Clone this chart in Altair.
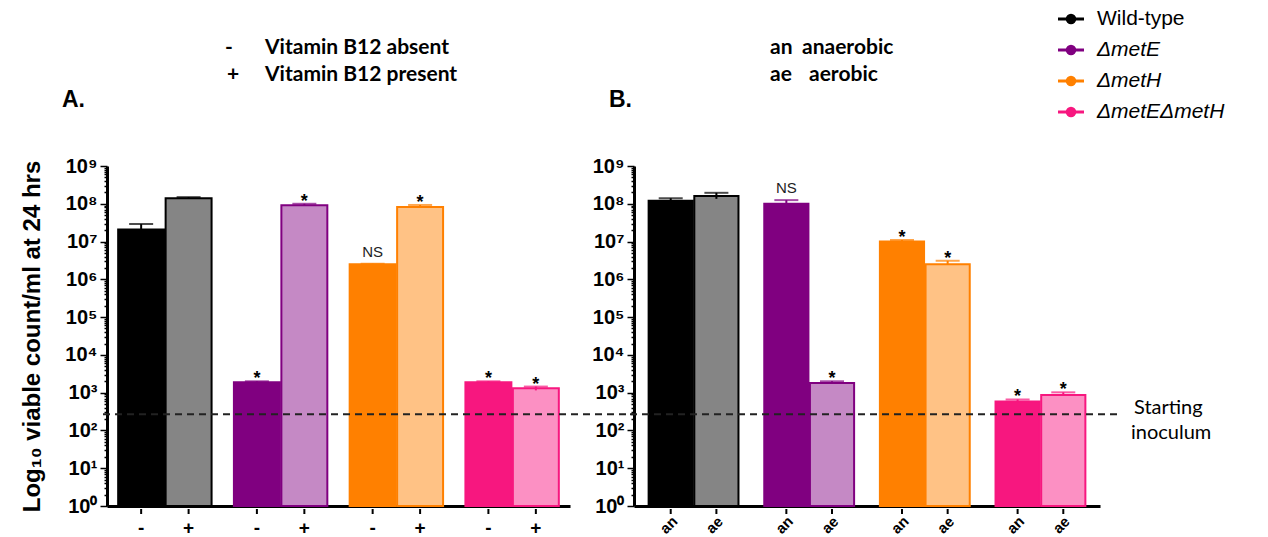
import altair as alt
import pandas as pd

# ---------------- data ----------------
strains = ["Wild-type", "ΔmetE", "ΔmetH", "ΔmetEΔmetH"]
strain_colors = ["#000000", "#800080", "#ff8000", "#f7177f"]
pattern_colors = ["#858585", "#c589c5", "#ffc285", "#fc90c3"]

a_conds = ["-", "+"]
a_strain = ["Wild-type", "Wild-type", "ΔmetE", "ΔmetE", "ΔmetH", "ΔmetH", "ΔmetEΔmetH", "ΔmetEΔmetH"]
a_cond = ["-", "+", "-", "+", "-", "+", "-", "+"]
a_value = [2.1e7, 1.4e8, 1.9e3, 9.2e7, 2.5e6, 8.2e7, 1.9e3, 1.3e3]
a_err_hi = [2.9e7, 1.5e8, 2.0e3, 1.0e8, 2.6e6, 9.3e7, 2.0e3, 1.45e3]
a_err_lo = [2.1e7, 1.4e8, 1.9e3, 9.2e7, 2.5e6, 8.2e7, 1.9e3, 1.15e3]
a_sig = ["", "", "*", "*", "NS", "*", "*", "*"]

b_conds = ["an", "ae"]
b_strain = a_strain
b_cond = ["an", "ae", "an", "ae", "an", "ae", "an", "ae"]
b_value = [1.2e8, 1.6e8, 1.0e8, 1.8e3, 1.0e7, 2.5e6, 5.8e2, 8.7e2]
b_err_hi = [1.4e8, 1.95e8, 1.25e8, 2.0e3, 1.1e7, 3.1e6, 6.6e2, 1.02e3]
b_err_lo = [1.2e8, 1.35e8, 1.0e8, 1.8e3, 1.0e7, 2.5e6, 5.8e2, 8.7e2]
b_sig = ["", "", "NS", "*", "*", "*", "*", "*"]

inoculum = 270

major_ticks = [1, 1e1, 1e2, 1e3, 1e4, 1e5, 1e6, 1e7, 1e8, 1e9]
minor_mult = [2, 3, 4, 5, 6, 7, 8, 9]
axis_values = major_ticks + [m * d for d in major_ticks[:-1] for m in minor_mult]

y_title = "Log₁₀ viable count/ml at 24 hrs"
a_key_lines = [("-", "Vitamin B12 absent"), ("+", "Vitamin B12 present")]
b_key_lines = [("an", "anaerobic"), ("ae", "aerobic")]
panel_labels = ["A.", "B."]
inoc_text = ["Starting", "inoculum"]

H = 340
WA = 463
WB = 466
GAP = 64
FONT = "Liberation Sans"
CAL = "Lato"

fill_domain = [s + "|0" for s in strains] + [s + "|1" for s in strains]
fill_range = strain_colors + pattern_colors

is_major = "abs(log(datum.value)/LN10 - round(log(datum.value)/LN10)) < 0.001"
sup = "['⁰','¹','²','³','⁴','⁵','⁶','⁷','⁸','⁹']"
label_expr = f"{is_major} ? '10' + {sup}[round(log(datum.value)/LN10)] : ''"


def make_df(strain, cond, value, lo, hi, sig, conds):
    df = pd.DataFrame({"strain": strain, "cond": cond, "value": value,
                       "lo": lo, "hi": hi, "sig": sig})
    df["ci"] = [conds.index(c) for c in cond]
    df["key"] = [s + "|" + str(i) for s, i in zip(strain, df["ci"])]
    return df


def note(text, x, y, size=21, weight="bold", font=CAL, align="left", style="normal", color="black"):
    return alt.Chart(pd.DataFrame({"t": [text]})).mark_text(
        align=align, baseline="middle", fontSize=size, fontWeight=weight,
        font=font, fontStyle=style, color=color
    ).encode(text="t:N", x=alt.value(x), y=alt.value(y))


def panel(df, conds, width, p_in, p_out, title, rotate, line_x2):
    yscale = alt.Scale(type="log", domain=[1, 1e9])
    step = width / (len(strains) - p_in + 2 * p_out)
    bandw = step * (1 - p_in)
    half = bandw / 2
    xscale = alt.Scale(type="band", domain=strains, paddingInner=p_in, paddingOuter=p_out)
    xaxis = alt.Axis(title=None, labels=False, ticks=False, domainWidth=3,
                     domainColor="black", grid=False)
    xenc = alt.X("strain:N", scale=xscale, axis=xaxis)
    yaxis = alt.Axis(
        values=axis_values, labelExpr=label_expr, labelOverlap=False,
        tickSize={"condition": {"test": is_major, "value": 7}, "value": 3},
        tickWidth=1.5, tickColor="black", domainWidth=3, domainColor="black",
        labelFont=FONT, labelFontSize=20, labelFontWeight="bold", labelColor="black",
        labelPadding=3, grid=False,
        title=title if title else None, titleFont=FONT, titleFontSize=24,
        titleFontWeight="bold", titleColor="black", titlePadding=20,
    )
    yenc = lambda f: alt.Y(f, scale=yscale, axis=yaxis)
    cscale = alt.Scale(domain=strains, range=strain_colors)
    layers = []
    for i in range(len(conds)):
        off = (i - 0.5) * half
        base = alt.Chart(df).transform_filter(f"datum.ci == {i}")
        layers.append(base.mark_bar(strokeWidth=2, width=half - 1.5, xOffset=off).encode(
            x=xenc,
            y=yenc("value:Q"),
            y2=alt.datum(1),
            fill=alt.Fill("key:N", scale=alt.Scale(domain=fill_domain, range=fill_range), legend=None),
            stroke=alt.Stroke("strain:N", scale=cscale, legend=None),
        ))
        layers.append(base.mark_rule(strokeWidth=2, xOffset=off).encode(
            x=xenc, y=yenc("lo:Q"), y2="hi:Q",
            color=alt.Color("strain:N", scale=cscale, legend=None),
        ))
        layers.append(base.mark_tick(thickness=2, size=24, xOffset=off).encode(
            x=xenc, y=yenc("hi:Q"),
            color=alt.Color("strain:N", scale=cscale, legend=None),
        ))
        layers.append(base.transform_filter("datum.sig == '*'").mark_text(
            font=FONT, fontSize=18, fontWeight="bold", baseline="alphabetic", dy=3,
            color="black", xOffset=off
        ).encode(x=xenc, y=yenc("hi:Q"), text="sig:N"))
        layers.append(base.transform_filter("datum.sig == 'NS'").mark_text(
            font=FONT, fontSize=15, baseline="alphabetic", dy=-7, color="#222", xOffset=off
        ).encode(x=xenc, y=yenc("hi:Q"), text="sig:N"))
        layers.append(base.mark_rule(strokeWidth=2, color="black", xOffset=off).encode(
            x=xenc, y=alt.value(H + 3), y2=alt.value(H + 8)))
        if rotate:
            layers.append(base.mark_text(font=FONT, fontSize=15, fontWeight="bold", angle=315,
                                         align="center", baseline="middle", color="black",
                                         xOffset=off - 2).encode(
                x=xenc, y=alt.value(H + 19), text="cond:N"))
        else:
            layers.append(base.mark_text(font=FONT, fontSize=19, fontWeight="bold",
                                         align="center", baseline="middle", color="black",
                                         xOffset=off).encode(
                x=xenc, y=alt.value(H + 22), text="cond:N"))
    line = alt.Chart(pd.DataFrame({"value": [inoculum]})).mark_rule(
        strokeDash=[7, 5], strokeWidth=2, color="#222").encode(
        y=yenc("value:Q"), x=alt.value(-4), x2=alt.value(line_x2))
    layers.append(line)
    return layers


dfa = make_df(a_strain, a_cond, a_value, a_err_lo, a_err_hi, a_sig, a_conds)
dfb = make_df(b_strain, b_cond, b_value, b_err_lo, b_err_hi, b_sig, b_conds)

layers_a = panel(dfa, a_conds, WA, 0.18, 0.09, y_title, False, WA + GAP)
notes_a = [
    note(a_key_lines[0][0], 122, -118, align="center"),
    note(a_key_lines[0][1], 158, -118),
    note(a_key_lines[1][0], 126, -91, align="center"),
    note(a_key_lines[1][1], 158, -91),
    note(panel_labels[0], -45, -66, size=23, font=FONT),
]
chart_a = alt.layer(*layers_a, *notes_a).properties(width=WA, height=H)

layers_b = panel(dfb, b_conds, WB, 0.21, 0.12, None, True, WB + 22)
notes_b = [
    note(b_key_lines[0][0], 136, -118),
    note(b_key_lines[0][1], 168, -118),
    note(b_key_lines[1][0], 136, -91),
    note(b_key_lines[1][1], 175, -91),
    note(panel_labels[1], -25, -66, size=23, font=FONT),
    note(inoc_text[0], 500, 242, size=20, weight="normal"),
    note(inoc_text[1], 497, 267, size=20, weight="normal"),
]

# manual legend
leg_df = pd.DataFrame({"strain": strains})
ly = alt.Y("strain:N", scale=alt.Scale(type="point", domain=strains, range=[-147, -54], padding=0), axis=None)
lcol = alt.Color("strain:N", scale=alt.Scale(domain=strains, range=strain_colors), legend=None)
leg_base = alt.Chart(leg_df)
leg_line = leg_base.mark_rule(strokeWidth=3).encode(y=ly, x=alt.value(424), x2=alt.value(450), color=lcol)
leg_pt = leg_base.mark_point(filled=True, size=110, opacity=1, shape="circle").encode(
    y=ly, x=alt.value(437), color=lcol)
leg_txt1 = leg_base.transform_filter("datum.strain == 'Wild-type'").mark_text(
    align="left", baseline="middle", font=FONT, fontSize=21, color="black").encode(
    y=ly, x=alt.value(463), text="strain:N")
leg_txt2 = leg_base.transform_filter("datum.strain != 'Wild-type'").mark_text(
    align="left", baseline="middle", font=FONT, fontSize=21, fontStyle="italic", color="black").encode(
    y=ly, x=alt.value(463), text="strain:N")
legend = alt.layer(leg_line, leg_pt, leg_txt1, leg_txt2)

chart_b = alt.layer(alt.layer(*layers_b, *notes_b), legend).resolve_scale(
    y="independent", color="independent").properties(width=WB, height=H)

chart = alt.hconcat(chart_a, chart_b, spacing=GAP, bounds="flush").properties(
    padding={"left": 20, "top": 8, "right": 5, "bottom": 5},
    background="white",
).configure_view(stroke=None)

chart.save("out.html", embed_options={"renderer": "svg", "actions": False})
